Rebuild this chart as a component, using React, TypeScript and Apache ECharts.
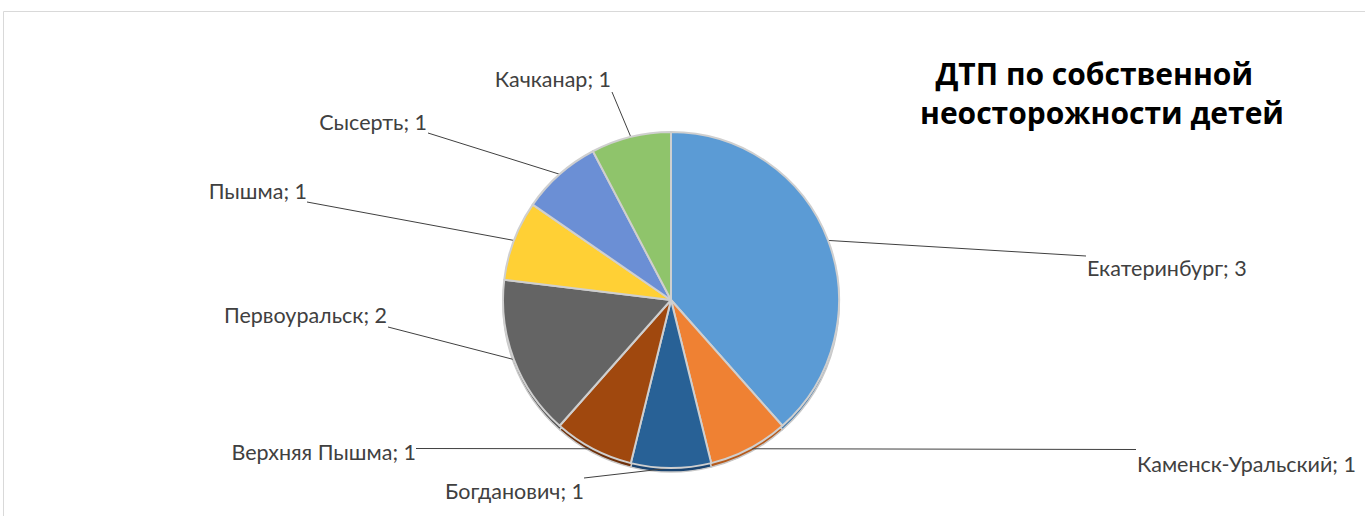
import React, { useEffect, useRef } from "react";
import * as echarts from "echarts";

// Categories in drawing order (clockwise from 12 o'clock)
const categories = [
  "Екатеринбург",
  "Каменск-Уральский",
  "Богданович",
  "Верхняя Пышма",
  "Первоуральск",
  "Пышма",
  "Сысерть",
  "Качканар",
];
const sliceValues = [5, 1, 1, 1, 2, 1, 1, 1];
// Values as printed in the data labels of the reference
const printedValues = [3, 1, 1, 1, 2, 1, 1, 1];

const titleText = "ДТП по собственной  \nнеосторожности детей";

const colors = ["#5B9BD5", "#EF8133", "#286196", "#A0480E", "#646464", "#FFD035", "#6B8FD5", "#8FC46B"];
const rimColors = ["#3F78AD", "#B45A1C", "#1A4470", "#6E300A", "#454545", "#C79C10", "#4A68A8", "#66964A"];

// label placement (style only): text anchor, alignment and leader end point
const labelPlacement: { x: number; y: number; align: string; end: [number, number] }[] = [
  { x: 1087, y: 268, align: "left", end: [1086, 256] },
  { x: 1137, y: 464, align: "left", end: [1136, 449.5] },
  { x: 584, y: 491, align: "right", end: [584, 478] },
  { x: 416, y: 452, align: "right", end: [416, 448.5] },
  { x: 387, y: 315, align: "right", end: [388, 327] },
  { x: 307, y: 191, align: "right", end: [307, 202] },
  { x: 427, y: 122, align: "right", end: [428, 133] },
  { x: 611, y: 79, align: "right", end: [612, 92] },
];

const CENTER: [number, number] = [671, 300];
const RADIUS = 168;

export default function App() {
  const ref = useRef<HTMLDivElement>(null);

  useEffect(() => {
    if (!ref.current) return;
    const chart = echarts.init(ref.current, null, { renderer: "svg" });
    const data = categories.map((name, i) => ({
      name,
      value: sliceValues[i],
      itemStyle: { color: colors[i] },
    }));
    const rimData = categories.map((name, i) => ({
      name,
      value: sliceValues[i],
      itemStyle: { color: rimColors[i] },
    }));

    chart.setOption({
      animation: false,
      backgroundColor: "#ffffff",
      graphic: [
        {
          type: "rect",
          shape: { x: 3.5, y: 11.5, width: 1400, height: 600 },
          style: { fill: "none", stroke: "#d9d9d9", lineWidth: 1 },
          silent: true,
          z: -10,
        },
        {
          type: "text",
          x: 1102,
          y: 54,
          style: {
            text: titleText,
            textAlign: "center",
            textVerticalAlign: "top",
            fontFamily: "Open Sans",
            fontWeight: "bold",
            fontSize: 30,
            lineHeight: 39,
            fill: "#000000",
          },
        },
      ],
      series: [
        {
          type: "pie",
          silent: true,
          z: 1,
          center: [CENTER[0], CENTER[1] + 4],
          radius: RADIUS,
          startAngle: 90,
          clockwise: true,
          label: { show: false },
          labelLine: { show: false },
          itemStyle: { borderColor: "#c8c8c8", borderWidth: 1.5 },
          data: rimData,
        },
        {
          type: "pie",
          z: 2,
          center: CENTER,
          radius: RADIUS,
          startAngle: 90,
          clockwise: true,
          avoidLabelOverlap: false,
          itemStyle: { borderColor: "#cfcfcf", borderWidth: 2 },
          label: {
            show: true,
            position: "outside",
            formatter: (p: any) => `${p.name}; ${printedValues[p.dataIndex]}`,
            fontFamily: "Lato",
            fontSize: 21.5,
            color: "#404040",
          },
          labelLine: {
            show: true,
            smooth: false,
            length: 20,
            length2: 20,
            lineStyle: { color: "#404040", width: 1 },
          },
          labelLayout: (params: any) => {
            const pl = labelPlacement[params.dataIndex];
            const start =
              params.labelLinePoints && params.labelLinePoints[0]
                ? params.labelLinePoints[0]
                : pl.end;
            return {
              x: pl.x,
              y: pl.y,
              align: pl.align,
              verticalAlign: "middle",
              labelLinePoints: [start, pl.end, pl.end],
            };
          },
          data,
        },
      ],
    });
    return () => chart.dispose();
  }, []);

  return (
    <div
      ref={ref}
      style={{ position: "absolute", left: 0, top: 0, width: 1365, height: 516 }}
    />
  );
}
